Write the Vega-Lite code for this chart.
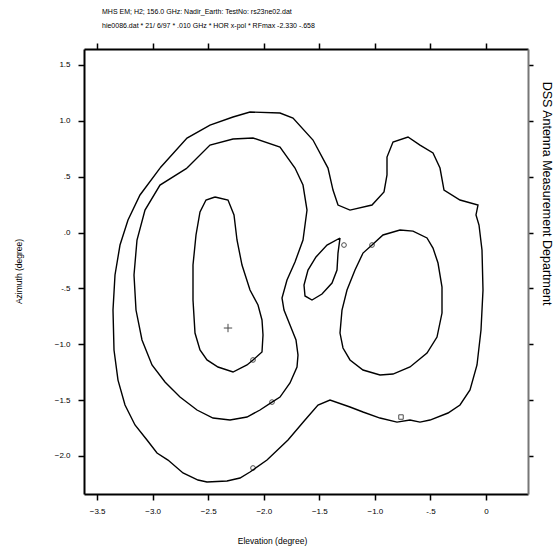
{
  "$schema": "https://vega.github.io/schema/vega-lite/v6.json",
  "width": 444,
  "height": 445,
  "autosize": {"type": "none"},
  "padding": {"left": 84, "top": 49, "right": 32, "bottom": 57},
  "background": "white",
  "config": {
    "view": {"stroke": null},
    "font": "Liberation Sans",
    "axis": {
      "domainColor": "black", "domainWidth": 2, "tickColor": "black", "tickWidth": 1.5, "tickSize": 6,
      "labelFont": "Liberation Sans", "labelFontSize": 8, "labelColor": "black",
      "titleFont": "Liberation Sans", "titleFontSize": 8.5, "titleFontWeight": "normal", "titleColor": "black",
      "grid": false
    }
  },
  "title": {
    "text": ["MHS EM; H2; 156.0 GHz: Nadir_Earth: TestNo: rs23ne02.dat", "hie0086.dat * 21/ 6/97 * .010 GHz * HOR x-pol * RFmax -2.330 -.658"],
    "anchor": "start", "frame": "group", "dx": 18, "offset": 13, "lineHeight": 14,
    "fontSize": 7, "fontWeight": "normal", "font": "Liberation Sans", "color": "black"
  },
  "datasets": {
    "contours": [
      {"c": "A", "i": 1, "el": -2.934, "az": 0.577}, {"c": "A", "i": 2, "el": -2.691, "az": 0.846}, {"c": "A", "i": 3, "el": -2.484, "az": 0.962}, {"c": "A", "i": 4, "el": -2.277, "az": 1.034}, {"c": "A", "i": 5, "el": -2.124, "az": 1.079}, {"c": "A", "i": 6, "el": -1.854, "az": 1.070}, {"c": "A", "i": 7, "el": -1.737, "az": 1.025}, {"c": "A", "i": 8, "el": -1.557, "az": 0.828}, {"c": "A", "i": 9, "el": -1.422, "az": 0.577}, {"c": "A", "i": 10, "el": -1.377, "az": 0.380}, {"c": "A", "i": 11, "el": -1.332, "az": 0.246}, {"c": "A", "i": 12, "el": -1.224, "az": 0.201}, {"c": "A", "i": 13, "el": -1.026, "az": 0.246}, {"c": "A", "i": 14, "el": -0.918, "az": 0.363}, {"c": "A", "i": 15, "el": -0.891, "az": 0.515}, {"c": "A", "i": 16, "el": -0.891, "az": 0.676}, {"c": "A", "i": 17, "el": -0.837, "az": 0.810}, {"c": "A", "i": 18, "el": -0.702, "az": 0.855}, {"c": "A", "i": 19, "el": -0.594, "az": 0.783}, {"c": "A", "i": 20, "el": -0.477, "az": 0.712}, {"c": "A", "i": 21, "el": -0.414, "az": 0.577}, {"c": "A", "i": 22, "el": -0.378, "az": 0.380}, {"c": "A", "i": 23, "el": -0.234, "az": 0.291}, {"c": "A", "i": 24, "el": -0.072, "az": 0.246}, {"c": "A", "i": 25, "el": -0.090, "az": 0.157}, {"c": "A", "i": 26, "el": -0.063, "az": 0.067}, {"c": "A", "i": 27, "el": -0.036, "az": -0.157}, {"c": "A", "i": 28, "el": -0.027, "az": -0.515}, {"c": "A", "i": 29, "el": -0.045, "az": -0.873}, {"c": "A", "i": 30, "el": -0.081, "az": -1.186}, {"c": "A", "i": 31, "el": -0.144, "az": -1.410}, {"c": "A", "i": 32, "el": -0.234, "az": -1.544}, {"c": "A", "i": 33, "el": -0.342, "az": -1.616}, {"c": "A", "i": 34, "el": -0.504, "az": -1.679}, {"c": "A", "i": 35, "el": -0.594, "az": -1.697}, {"c": "A", "i": 36, "el": -0.684, "az": -1.679}, {"c": "A", "i": 37, "el": -0.801, "az": -1.697}, {"c": "A", "i": 38, "el": -0.954, "az": -1.661}, {"c": "A", "i": 39, "el": -1.107, "az": -1.607}, {"c": "A", "i": 40, "el": -1.224, "az": -1.562}, {"c": "A", "i": 41, "el": -1.404, "az": -1.500}, {"c": "A", "i": 42, "el": -1.512, "az": -1.544}, {"c": "A", "i": 43, "el": -1.629, "az": -1.679}, {"c": "A", "i": 44, "el": -1.782, "az": -1.858}, {"c": "A", "i": 45, "el": -1.971, "az": -2.037}, {"c": "A", "i": 46, "el": -2.124, "az": -2.144}, {"c": "A", "i": 47, "el": -2.214, "az": -2.198}, {"c": "A", "i": 48, "el": -2.331, "az": -2.225}, {"c": "A", "i": 49, "el": -2.511, "az": -2.234}, {"c": "A", "i": 50, "el": -2.592, "az": -2.216}, {"c": "A", "i": 51, "el": -2.727, "az": -2.153}, {"c": "A", "i": 52, "el": -2.862, "az": -2.037}, {"c": "A", "i": 53, "el": -2.961, "az": -1.974}, {"c": "A", "i": 54, "el": -3.051, "az": -1.858}, {"c": "A", "i": 55, "el": -3.159, "az": -1.723}, {"c": "A", "i": 56, "el": -3.249, "az": -1.544}, {"c": "A", "i": 57, "el": -3.312, "az": -1.321}, {"c": "A", "i": 58, "el": -3.348, "az": -1.052}, {"c": "A", "i": 59, "el": -3.357, "az": -0.694}, {"c": "A", "i": 60, "el": -3.339, "az": -0.380}, {"c": "A", "i": 61, "el": -3.294, "az": -0.112}, {"c": "A", "i": 62, "el": -3.222, "az": 0.112}, {"c": "A", "i": 63, "el": -3.114, "az": 0.336}, {"c": "A", "i": 64, "el": -2.934, "az": 0.577},
      {"c": "B", "i": 1, "el": -2.691, "az": 0.577}, {"c": "B", "i": 2, "el": -2.484, "az": 0.783}, {"c": "B", "i": 3, "el": -2.277, "az": 0.837}, {"c": "B", "i": 4, "el": -2.097, "az": 0.846}, {"c": "B", "i": 5, "el": -1.854, "az": 0.765}, {"c": "B", "i": 6, "el": -1.719, "az": 0.577}, {"c": "B", "i": 7, "el": -1.647, "az": 0.425}, {"c": "B", "i": 8, "el": -1.611, "az": 0.201}, {"c": "B", "i": 9, "el": -1.647, "az": -0.067}, {"c": "B", "i": 10, "el": -1.719, "az": -0.264}, {"c": "B", "i": 11, "el": -1.791, "az": -0.425}, {"c": "B", "i": 12, "el": -1.836, "az": -0.586}, {"c": "B", "i": 13, "el": -1.818, "az": -0.694}, {"c": "B", "i": 14, "el": -1.764, "az": -0.828}, {"c": "B", "i": 15, "el": -1.710, "az": -0.962}, {"c": "B", "i": 16, "el": -1.692, "az": -1.097}, {"c": "B", "i": 17, "el": -1.701, "az": -1.204}, {"c": "B", "i": 18, "el": -1.764, "az": -1.347}, {"c": "B", "i": 19, "el": -1.854, "az": -1.473}, {"c": "B", "i": 20, "el": -1.926, "az": -1.518}, {"c": "B", "i": 21, "el": -2.034, "az": -1.589}, {"c": "B", "i": 22, "el": -2.151, "az": -1.652}, {"c": "B", "i": 23, "el": -2.304, "az": -1.679}, {"c": "B", "i": 24, "el": -2.457, "az": -1.661}, {"c": "B", "i": 25, "el": -2.601, "az": -1.589}, {"c": "B", "i": 26, "el": -2.754, "az": -1.473}, {"c": "B", "i": 27, "el": -2.889, "az": -1.338}, {"c": "B", "i": 28, "el": -3.006, "az": -1.186}, {"c": "B", "i": 29, "el": -3.096, "az": -0.962}, {"c": "B", "i": 30, "el": -3.150, "az": -0.694}, {"c": "B", "i": 31, "el": -3.168, "az": -0.380}, {"c": "B", "i": 32, "el": -3.141, "az": -0.067}, {"c": "B", "i": 33, "el": -3.069, "az": 0.201}, {"c": "B", "i": 34, "el": -2.934, "az": 0.425}, {"c": "B", "i": 35, "el": -2.691, "az": 0.577},
      {"c": "C", "i": 1, "el": -2.439, "az": 0.318}, {"c": "C", "i": 2, "el": -2.322, "az": 0.291}, {"c": "C", "i": 3, "el": -2.268, "az": 0.157}, {"c": "C", "i": 4, "el": -2.241, "az": -0.067}, {"c": "C", "i": 5, "el": -2.196, "az": -0.291}, {"c": "C", "i": 6, "el": -2.124, "az": -0.515}, {"c": "C", "i": 7, "el": -2.052, "az": -0.649}, {"c": "C", "i": 8, "el": -2.016, "az": -0.783}, {"c": "C", "i": 9, "el": -2.007, "az": -0.918}, {"c": "C", "i": 10, "el": -2.016, "az": -1.070}, {"c": "C", "i": 11, "el": -2.097, "az": -1.141}, {"c": "C", "i": 12, "el": -2.151, "az": -1.186}, {"c": "C", "i": 13, "el": -2.277, "az": -1.249}, {"c": "C", "i": 14, "el": -2.412, "az": -1.204}, {"c": "C", "i": 15, "el": -2.511, "az": -1.141}, {"c": "C", "i": 16, "el": -2.574, "az": -1.052}, {"c": "C", "i": 17, "el": -2.619, "az": -0.900}, {"c": "C", "i": 18, "el": -2.637, "az": -0.604}, {"c": "C", "i": 19, "el": -2.637, "az": -0.291}, {"c": "C", "i": 20, "el": -2.610, "az": -0.022}, {"c": "C", "i": 21, "el": -2.574, "az": 0.184}, {"c": "C", "i": 22, "el": -2.520, "az": 0.291}, {"c": "C", "i": 23, "el": -2.439, "az": 0.318},
      {"c": "D", "i": 1, "el": -1.026, "az": -0.112}, {"c": "D", "i": 2, "el": -0.927, "az": -0.022}, {"c": "D", "i": 3, "el": -0.774, "az": 0.022}, {"c": "D", "i": 4, "el": -0.657, "az": 0.013}, {"c": "D", "i": 5, "el": -0.531, "az": -0.049}, {"c": "D", "i": 6, "el": -0.477, "az": -0.139}, {"c": "D", "i": 7, "el": -0.432, "az": -0.273}, {"c": "D", "i": 8, "el": -0.396, "az": -0.488}, {"c": "D", "i": 9, "el": -0.396, "az": -0.721}, {"c": "D", "i": 10, "el": -0.441, "az": -0.936}, {"c": "D", "i": 11, "el": -0.531, "az": -1.079}, {"c": "D", "i": 12, "el": -0.684, "az": -1.204}, {"c": "D", "i": 13, "el": -0.837, "az": -1.267}, {"c": "D", "i": 14, "el": -0.954, "az": -1.276}, {"c": "D", "i": 15, "el": -1.107, "az": -1.231}, {"c": "D", "i": 16, "el": -1.224, "az": -1.141}, {"c": "D", "i": 17, "el": -1.287, "az": -1.034}, {"c": "D", "i": 18, "el": -1.314, "az": -0.900}, {"c": "D", "i": 19, "el": -1.296, "az": -0.694}, {"c": "D", "i": 20, "el": -1.251, "az": -0.515}, {"c": "D", "i": 21, "el": -1.179, "az": -0.336}, {"c": "D", "i": 22, "el": -1.107, "az": -0.184}, {"c": "D", "i": 23, "el": -1.026, "az": -0.112},
      {"c": "E", "i": 1, "el": -1.314, "az": -0.049}, {"c": "E", "i": 2, "el": -1.332, "az": -0.184}, {"c": "E", "i": 3, "el": -1.341, "az": -0.336}, {"c": "E", "i": 4, "el": -1.386, "az": -0.452}, {"c": "E", "i": 5, "el": -1.476, "az": -0.551}, {"c": "E", "i": 6, "el": -1.566, "az": -0.604}, {"c": "E", "i": 7, "el": -1.629, "az": -0.568}, {"c": "E", "i": 8, "el": -1.638, "az": -0.470}, {"c": "E", "i": 9, "el": -1.602, "az": -0.336}, {"c": "E", "i": 10, "el": -1.530, "az": -0.219}, {"c": "E", "i": 11, "el": -1.431, "az": -0.112}, {"c": "E", "i": 12, "el": -1.314, "az": -0.049}
    ],
    "circles": [
      {"el": -1.278, "az": -0.112}, {"el": -1.026, "az": -0.112}, {"el": -2.097, "az": -1.141}, {"el": -1.926, "az": -1.518}, {"el": -2.097, "az": -2.108}
    ],
    "squares": [{"el": -0.765, "az": -1.652}],
    "peak": [{"el": -2.322, "az": -0.855}]
  },
  "layer": [
    {
      "data": {"name": "contours"},
      "mark": {"type": "line", "color": "black", "strokeWidth": 1.4, "interpolate": "linear"},
      "encoding": {
        "x": {"field": "el", "type": "quantitative", "scale": {"domain": [-3.618, 0.378], "nice": false, "zero": false},
              "axis": {"orient": "bottom", "values": [-3.5, -3, -2.5, -2, -1.5, -1, -0.5, 0], "labelExpr": "datum.value == 0 ? '0' : datum.value == -0.5 ? '-.5' : format(datum.value, '.1f')", "labelPadding": 7, "title": "Elevation (degree)", "titleX": 188, "titleY": 46, "titleBaseline": "middle", "titleAlign": "center"}},
        "y": {"field": "az", "type": "quantitative", "scale": {"domain": [-2.341, 1.643], "nice": false, "zero": false},
              "axis": {"orient": "left", "values": [-2, -1.5, -1, -0.5, 0, 0.5, 1, 1.5], "labelExpr": "datum.value == 0 ? '.0' : datum.value == 0.5 ? '.5' : datum.value == -0.5 ? '-.5' : format(datum.value, '.1f')", "labelPadding": 8, "title": "Azimuth (degree)", "titleX": -66, "titleY": 222, "titleBaseline": "middle", "titleAlign": "center", "titleAngle": -90}},
        "detail": {"field": "c"},
        "order": {"field": "i", "type": "quantitative"}
      }
    },
    {
      "data": {"name": "circles"},
      "mark": {"type": "point", "shape": "circle", "filled": false, "size": 22, "strokeWidth": 1, "color": "black"},
      "encoding": {
        "x": {"field": "el", "type": "quantitative", "scale": {"domain": [-3.618, 0.378], "nice": false, "zero": false},
              "axis": {"orient": "top", "values": [-3.5, -3, -2.5, -2, -1.5, -1, -0.5, 0], "labels": false, "title": null}},
        "y": {"field": "az", "type": "quantitative", "scale": {"domain": [-2.341, 1.643], "nice": false, "zero": false},
              "axis": {"orient": "right", "values": [-2, -1.5, -1, -0.5, 0, 0.5, 1, 1.5], "labels": false, "tickSize": 5, "domainColor": "#777777", "title": "DSS Antenna Measurement Department", "titleFontSize": 12.5, "titleAngle": 90, "titleX": 18, "titleY": 144, "titleAlign": "center", "titleBaseline": "middle"}}
      }
    },
    {
      "data": {"name": "squares"},
      "mark": {"type": "point", "shape": "square", "filled": false, "size": 20, "strokeWidth": 1, "color": "black"},
      "encoding": {
        "x": {"field": "el", "type": "quantitative", "scale": {"domain": [-3.618, 0.378], "nice": false, "zero": false}, "axis": null},
        "y": {"field": "az", "type": "quantitative", "scale": {"domain": [-2.341, 1.643], "nice": false, "zero": false}, "axis": null}
      }
    },
    {
      "data": {"name": "peak"},
      "mark": {"type": "point", "shape": "M-1,0L1,0M0,-1L0,1", "filled": false, "size": 70, "strokeWidth": 1, "color": "black"},
      "encoding": {
        "x": {"field": "el", "type": "quantitative", "scale": {"domain": [-3.618, 0.378], "nice": false, "zero": false}, "axis": null},
        "y": {"field": "az", "type": "quantitative", "scale": {"domain": [-2.341, 1.643], "nice": false, "zero": false}, "axis": null}
      }
    }
  ],
  "resolve": {"axis": {"x": "independent", "y": "independent"}}
}
